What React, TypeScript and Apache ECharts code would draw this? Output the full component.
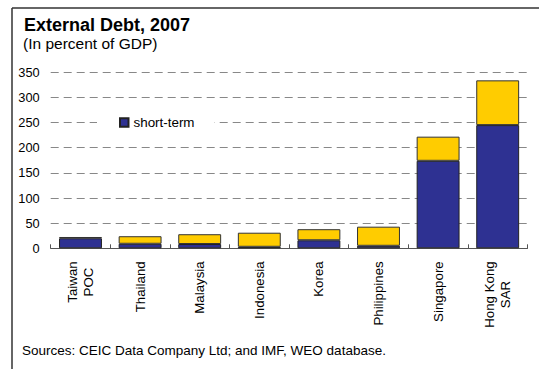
import React, { useEffect, useRef } from "react";
import * as echarts from "echarts";

const categories = ["Taiwan\nPOC", "Thailand", "Malaysia", "Indonesia", "Korea", "Philippines", "Singapore", "Hong Kong\nSAR"];
const shortTerm = [20, 9, 8.5, 3, 16, 5, 174, 245];
const longTerm = [2.5, 15, 19.5, 28, 22, 38, 48, 89];
const yTicks = { min: 0, max: 350, interval: 50 };

const FONT = "'Liberation Sans', Arial, sans-serif";

export default function App() {
  const ref = useRef<HTMLDivElement>(null);
  useEffect(() => {
    const chart = echarts.init(ref.current!, null, { renderer: "svg" });
    chart.setOption({
      animation: false,
      backgroundColor: "#ffffff",
      textStyle: { fontFamily: FONT },
      grid: { left: 50.7, right: 11.5, top: 72.3, bottom: 120.7, containLabel: false },
      legend: {
        data: ["short-term"],
        left: 97,
        top: 113,
        padding: [3, 20, 3, 22],
        backgroundColor: "#ffffff",
        itemWidth: 8.5,
        itemHeight: 8.5,
        icon: "rect",
        textStyle: { fontSize: 13.4, color: "#000", fontFamily: FONT },
      },
      xAxis: {
        type: "category",
        data: categories,
        axisLine: { lineStyle: { color: "#555", width: 1 } },
        axisTick: { show: true, inside: true, length: 4, lineStyle: { color: "#555" } },
        axisLabel: {
          rotate: 90,
          margin: 13,
          interval: 0,
          formatter: (v: string) => v.split("\n").map((l) => `{c|${l}}`).join("\n"),
          rich: { c: { align: "center", fontSize: 13.3, lineHeight: 16, color: "#000", fontFamily: FONT } },
        },
        splitLine: { show: false },
      },
      yAxis: {
        type: "value",
        min: yTicks.min,
        max: yTicks.max,
        interval: yTicks.interval,
        axisLine: { show: false },
        axisTick: { show: false },
        axisLabel: { margin: 11, fontSize: 12.8, color: "#000", fontFamily: FONT },
        splitLine: { lineStyle: { color: "#888", type: [8, 5], width: 1 } },
      },
      series: [
        {
          name: "short-term",
          type: "bar",
          stack: "debt",
          data: shortTerm,
          barWidth: "72%",
          itemStyle: { color: "#2E3192", borderColor: "#222", borderWidth: 1 },
        },
        {
          name: "long-term",
          type: "bar",
          stack: "debt",
          data: longTerm,
          barWidth: "72%",
          itemStyle: { color: "#FFCC00", borderColor: "#333", borderWidth: 1 },
        },
      ],
      graphic: [
        { type: "line", shape: { x1: 12, y1: 8, x2: 539, y2: 8 }, style: { stroke: "#333", lineWidth: 1.5 } },
        { type: "line", shape: { x1: 12, y1: 8, x2: 12, y2: 369 }, style: { stroke: "#333", lineWidth: 1.5 } },
        {
          type: "text",
          x: 24,
          y: 25.4,
          style: { text: "External Debt, 2007", font: `bold 18px ${FONT}`, fill: "#000", verticalAlign: "middle" },
        },
        {
          type: "text",
          x: 23,
          y: 43.6,
          style: { text: "(In percent of GDP)", font: `15.5px ${FONT}`, fill: "#000", verticalAlign: "middle" },
        },
        {
          type: "text",
          x: 22,
          y: 350.3,
          style: {
            text: "Sources: CEIC Data Company Ltd; and IMF, WEO database.",
            font: `13.5px ${FONT}`,
            fill: "#000",
            verticalAlign: "middle",
          },
        },
      ],
    });
    return () => chart.dispose();
  }, []);
  return <div ref={ref} style={{ position: "absolute", left: 0, top: 0, width: 539, height: 369 }} />;
}
